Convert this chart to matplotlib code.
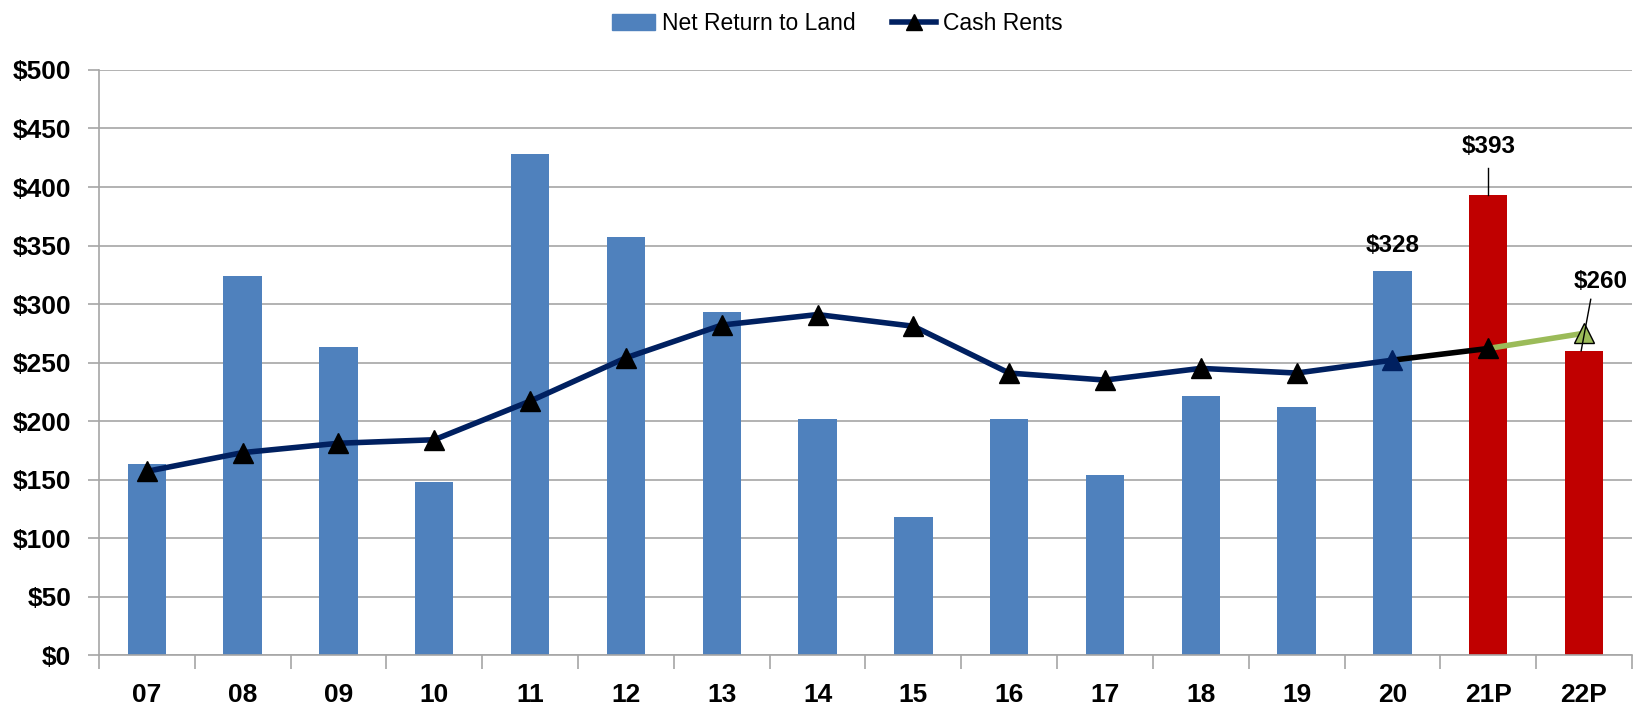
import matplotlib
matplotlib.use("Agg")
import matplotlib.pyplot as plt
import numpy as np
from matplotlib.lines import Line2D
from matplotlib.patches import Patch

years = ["07", "08", "09", "10", "11", "12", "13", "14", "15", "16",
         "17", "18", "19", "20", "21P", "22P"]
net_return = [163, 324, 263, 148, 428, 357, 293, 202, 118, 202,
              154, 221, 212, 328, 393, 260]
cash_rents = [157, 173, 181, 184, 217, 254, 282, 291, 281, 241,
              235, 245, 241, 252, 262, 275]
y_ticks = [0, 50, 100, 150, 200, 250, 300, 350, 400, 450, 500]

BLUE = "#4F81BD"
RED = "#C00000"
NAVY = "#002060"
GREEN = "#9BBB59"
GRID = "#A6A6A6"

plt.rcParams["font.family"] = ["Liberation Sans", "DejaVu Sans"]

fig = plt.figure(figsize=(16.38, 7.07), dpi=100)
ax = fig.add_axes([0.0604, 0.0735, 0.9359, 0.8275])

x = np.arange(len(years))
bar_colors = [RED if y.endswith("P") else BLUE for y in years]
ax.bar(x, net_return, width=0.4, color=bar_colors, zorder=2)

# Cash rents line: navy history, black to 21P, green projection.
ax.plot(x[:14], cash_rents[:14], color=NAVY, lw=4, zorder=3,
        solid_capstyle="round")
ax.plot(x[13:15], cash_rents[13:15], color="black", lw=4, zorder=3,
        solid_capstyle="round")
ax.plot(x[14:16], cash_rents[14:16], color=GREEN, lw=4, zorder=3,
        solid_capstyle="round")
marker_face = ["black"] * 13 + [NAVY, "black", GREEN]
marker_edge = ["black"] * 13 + [NAVY, "black", "black"]
for xi, yi, fc, ec in zip(x, cash_rents, marker_face, marker_edge):
    ax.plot(xi, yi, marker="^", ms=14, mfc=fc, mec=ec, mew=1, zorder=4)

# Value labels.
lab_kw = dict(fontsize=17.5, fontweight="bold", ha="center", va="bottom")
ax.text(x[13], net_return[13] + 12, f"${net_return[13]}", **lab_kw)
ax.text(x[14], net_return[14] + 32, f"${net_return[14]}", **lab_kw)
ax.plot([x[14], x[14]], [net_return[14], net_return[14] + 23],
        color="black", lw=1, zorder=4)
ax.text(x[15] + 0.17, 309, f"${net_return[15]}", **lab_kw)
ax.plot([x[15] - 0.03, x[15] + 0.07], [net_return[15], 304],
        color="black", lw=1, zorder=5)

ax.set_xlim(-0.5, len(years) - 0.5)
ax.set_ylim(0, 500)
ax.set_yticks(y_ticks)
ax.set_yticklabels([f"${v}" for v in y_ticks], fontsize=19, fontweight="bold")
ax.set_xticks(x)
ax.set_xticklabels(years, fontsize=19, fontweight="bold")
ax.set_xticks(np.arange(len(years) + 1) - 0.5, minor=True)
ax.tick_params(axis="x", which="major", length=0, pad=20)
ax.tick_params(axis="x", which="minor", length=10, color=GRID, width=1.2)
ax.tick_params(axis="y", length=8, color=GRID, width=1.2, pad=12)
ax.grid(axis="y", color=GRID, lw=1.2, zorder=0)
ax.set_axisbelow(True)
for s in ["top", "right"]:
    ax.spines[s].set_visible(False)
for s in ["left", "bottom"]:
    ax.spines[s].set_color(GRID)
    ax.spines[s].set_linewidth(1.2)

handles = [
    Patch(color=BLUE, label="Net Return to Land"),
    Line2D([], [], color=NAVY, lw=4, marker="^", ms=12, mfc="black",
           mec="black", label="Cash Rents"),
]
fig.legend(handles=handles, loc="upper center", bbox_to_anchor=(0.511, 1.012),
           ncol=2, frameon=False, fontsize=16.5, handlelength=1.9,
           columnspacing=1.6, handletextpad=0.3)

fig.savefig("out.png", dpi=100)
